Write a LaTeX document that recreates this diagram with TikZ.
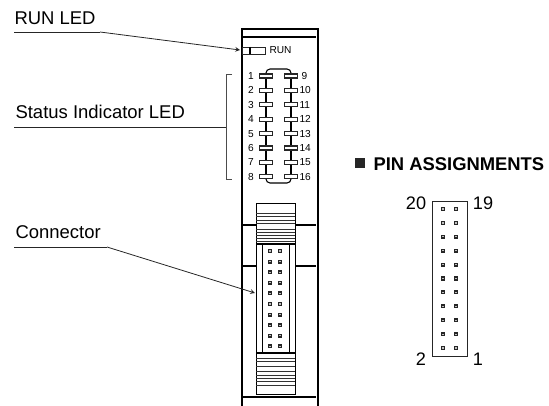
\documentclass[tikz,border=0pt]{standalone}
\usepackage{fontspec}
\setmainfont{Liberation Sans}
\usetikzlibrary{calc, positioning}
\tikzstyle{labeltext}=[
    anchor=base west,
    inner sep=0pt,
    font=\fontsize{13.85}{15}\selectfont]
\tikzstyle{smallnum}=[
    inner sep=0pt,
    font=\fontsize{7.6}{9}\selectfont]
\tikzstyle{bignum}=[
    inner sep=0pt,
    font=\fontsize{13.6}{15}\selectfont]
\tikzstyle{ledbox}=[
    draw=black!85,
    rectangle,
    fill=white,
    inner sep=0pt,
    minimum width=9.5pt,
    minimum height=3pt]
\tikzstyle{pin}=[
    draw=black!85,
    rectangle,
    fill=black!25,
    line width=1.1pt,
    inner sep=0pt,
    minimum size=2pt]
\tikzstyle{leader}=[-, line width=0.6pt, black!85]
\tikzstyle{ridge}=[line width=0.6pt, black!80]
\begin{document}
\begin{tikzpicture}[x=0.75pt, y=-0.75pt, line width=0.8pt]
        \useasboundingbox (0,0) rectangle (549,406);

        % Draw the module body.
        \node[draw, line width=1.3pt, inner sep=0pt, minimum width=57pt, minimum height=283.5pt, anchor=north west] (body) at (241,28) {};
        \draw (241,37) -- (316,37);
        \draw (241,397) -- (316,397);

        % Draw the run led.
        \node[draw=black!85, inner sep=0pt, minimum width=17pt, minimum height=5.2pt, anchor=north west] (run) at (242,47) {};
        \draw (250,47) -- (250,54);
        \node[smallnum, anchor=west] (runtext) at (269,50) {RUN};

        % Draw the status leds.
        \draw[rounded corners=3pt] (266,76) -- (266,69) -- (291,69) -- (291,76);
        \draw[rounded corners=3pt] (266,176) -- (266,183) -- (291,183) -- (291,176);
        \draw (266,76) -- (266,176);
        \draw (291,76) -- (291,176);
        \foreach \n/\m/\xx [count=\i from 0] in {1/9/301,2/10/299,3/11/299,4/12/299,5/13/299,6/14/299,7/15/299,8/16/299} {
            \pgfmathsetmacro{\yy}{76+14.4*\i}
            \node[ledbox] (l\n) at (266,\yy) {};
            \node[ledbox] (r\n) at (291,\yy) {};
            \node[smallnum] (nl\n) at (251,\yy) {\n};
            \node[smallnum, anchor=west] (nr\n) at (\xx,\yy) {\m};
        }

        % Draw the connector.
        \node[draw, line width=1pt, inner sep=0pt, minimum width=29.25pt, minimum height=143.25pt, anchor=north west] (conn) at (256,203) {};
        \node[draw, line width=1pt, inner sep=0pt, minimum width=20.25pt, minimum height=81.75pt, anchor=north west] (inner) at (262,244) {};
        \draw (256,244) -- (295,244);
        \draw (256,353) -- (295,353);
        \draw (241,225) -- (256,225);
        \draw (295,225) -- (316,225);
        \draw (241,266) -- (256,266);
        \draw (295,266) -- (316,266);
        \foreach \yy in {213,216.5,220,223.5,229.5,232,235,238.5,241.5,358,361.5,366.5,371.5,375,378.5,381.5,385}
            \draw[ridge] (256,\yy) -- (295,\yy);
        \foreach \i in {0,...,9} {
            \node[pin] (a\i) at (270,251+10.6*\i) {};
            \node[pin] (b\i) at (280,251+10.6*\i) {};
        }

        % Draw the labels and the lines to the parts.
        \node[labeltext] (runled) at (14,25) {RUN LED};
        \node[labeltext] (status) at (15,118) {Status Indicator LED};
        \node[labeltext] (connector) at (15,238) {Connector};
        \coordinate (runa) at (14,32);
        \coordinate (runb) at (100,32);
        \coordinate (runc) at (240,50);
        \coordinate (stata) at (14,127);
        \coordinate (statb) at (226,127);
        \coordinate (conna) at (14,247);
        \coordinate (connb) at (107,247);
        \coordinate (connc) at (255,293);
        \draw[leader] (runa) -- (runb);
        \draw[leader, ->, >=stealth] (runb) -- (runc);
        \draw[leader] (stata) -- (statb);
        \draw[leader] (conna) -- (connb);
        \draw[leader, ->, >=stealth] (connb) -- (connc);
        \draw[leader, black!70] (232,74) -- (226,74) -- (226,179) -- (232,179);

        % Draw the pin assignments.
        \node[fill=black!85, inner sep=0pt, minimum size=7.5pt] (mark) at (360,163) {};
        \node[anchor=west, inner sep=0pt, font=\fontsize{13.8}{15}\selectfont\bfseries] (pintitle) at (373,164) {PIN ASSIGNMENTS};
        \node[draw=black!85, line width=1pt, inner sep=0pt, minimum width=26.25pt, minimum height=116.25pt, anchor=north west] (pinbox) at (432,201) {};
        \foreach \i in {0,...,10} {
            \node[pin] (c\i) at (443,209+13.9*\i) {};
            \node[pin] (d\i) at (456,209+13.9*\i) {};
        }
        \node[bignum] (p20) at (416,203) {20};
        \node[bignum] (p19) at (483,203) {19};
        \node[bignum] (p2) at (421,359) {2};
        \node[bignum] (p1) at (478,359) {1};
\end{tikzpicture}
\end{document}
